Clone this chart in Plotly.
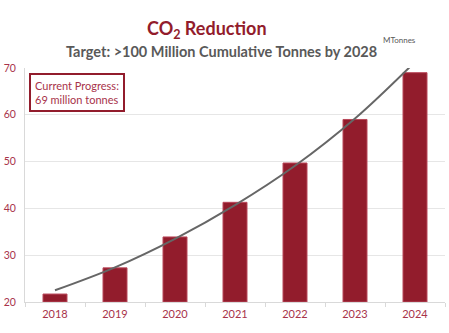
import plotly.graph_objects as go

years = ["2018", "2019", "2020", "2021", "2022", "2023", "2024"]
reduction = [21.7, 27.3, 33.9, 41.3, 49.7, 59.0, 69.0]
trend = [22.5, 27.4, 33.5, 40.7, 49.1, 59.2, 71.3]
y_ticks = [20, 30, 40, 50, 60, 70]

RED = "#921c2c"
TICK = "#a8334a"
FONT = "Lato"

fig = go.Figure()
fig.add_trace(go.Bar(
    x=years, y=[v - 20 for v in reduction], base=20,
    marker=dict(color=RED, line=dict(color="#b9485a", width=1)),
    hoverinfo="skip", showlegend=False,
))
fig.add_trace(go.Scatter(
    x=years, y=trend, mode="lines", line=dict(color="#666666", width=2, shape="spline"),
    hoverinfo="skip", showlegend=False, cliponaxis=True,
))

fig.update_layout(
    width=449, height=333,
    margin=dict(l=23, r=4, t=68, b=31),
    paper_bgcolor="white", plot_bgcolor="white",
    bargap=0.6,
    font=dict(family=FONT, color=TICK, size=10),
    xaxis=dict(
        showgrid=False, showline=True, linecolor="#d9d9d9", linewidth=1,
        ticks="outside", tickson="boundaries", ticklen=4, tickcolor="#d9d9d9",
        ticklabelstandoff=2,
        tickfont=dict(size=11, color=TICK, family=FONT),
    ),
    yaxis=dict(
        range=[20, 70], tickvals=y_ticks, showgrid=True, gridcolor="#e6e6e6",
        showline=True, linecolor="#d9d9d9", linewidth=1, zeroline=False,
        ticklabelstandoff=6,
        tickfont=dict(size=10.5, color=TICK, family=FONT),
    ),
    annotations=[
        dict(text="<b>CO<sub>2</sub> Reduction</b>", xref="paper", yref="paper",
             x=(206 - 23) / 422, y=1 + (68 - 30) / 234, xanchor="center", yanchor="middle",
             showarrow=False, font=dict(size=18, color=RED, family=FONT)),
        dict(text="<b>Target: >100 Million Cumulative Tonnes by 2028</b>", xref="paper", yref="paper",
             x=(220 - 23) / 422, y=1 + (68 - 51) / 234, xanchor="center", yanchor="middle",
             showarrow=False, font=dict(size=14.5, color="#595959", family=FONT)),
        dict(text="MTonnes", xref="paper", yref="paper",
             x=(399 - 23) / 422, y=1 + (68 - 40) / 234, xanchor="center", yanchor="middle",
             showarrow=False, font=dict(size=8, color="#595959", family=FONT)),
        dict(text="Current Progress:<br>69 million tonnes", xref="paper", yref="paper",
             x=(27 - 23) / 422, y=1 - (73 - 68) / 234, xanchor="left", yanchor="top",
             align="left", showarrow=False, bgcolor="white",
             bordercolor=RED, borderwidth=2, borderpad=4,
             font=dict(size=11, color="#a8334a", family=FONT)),
    ],
)

fig.write_html("out.html")
